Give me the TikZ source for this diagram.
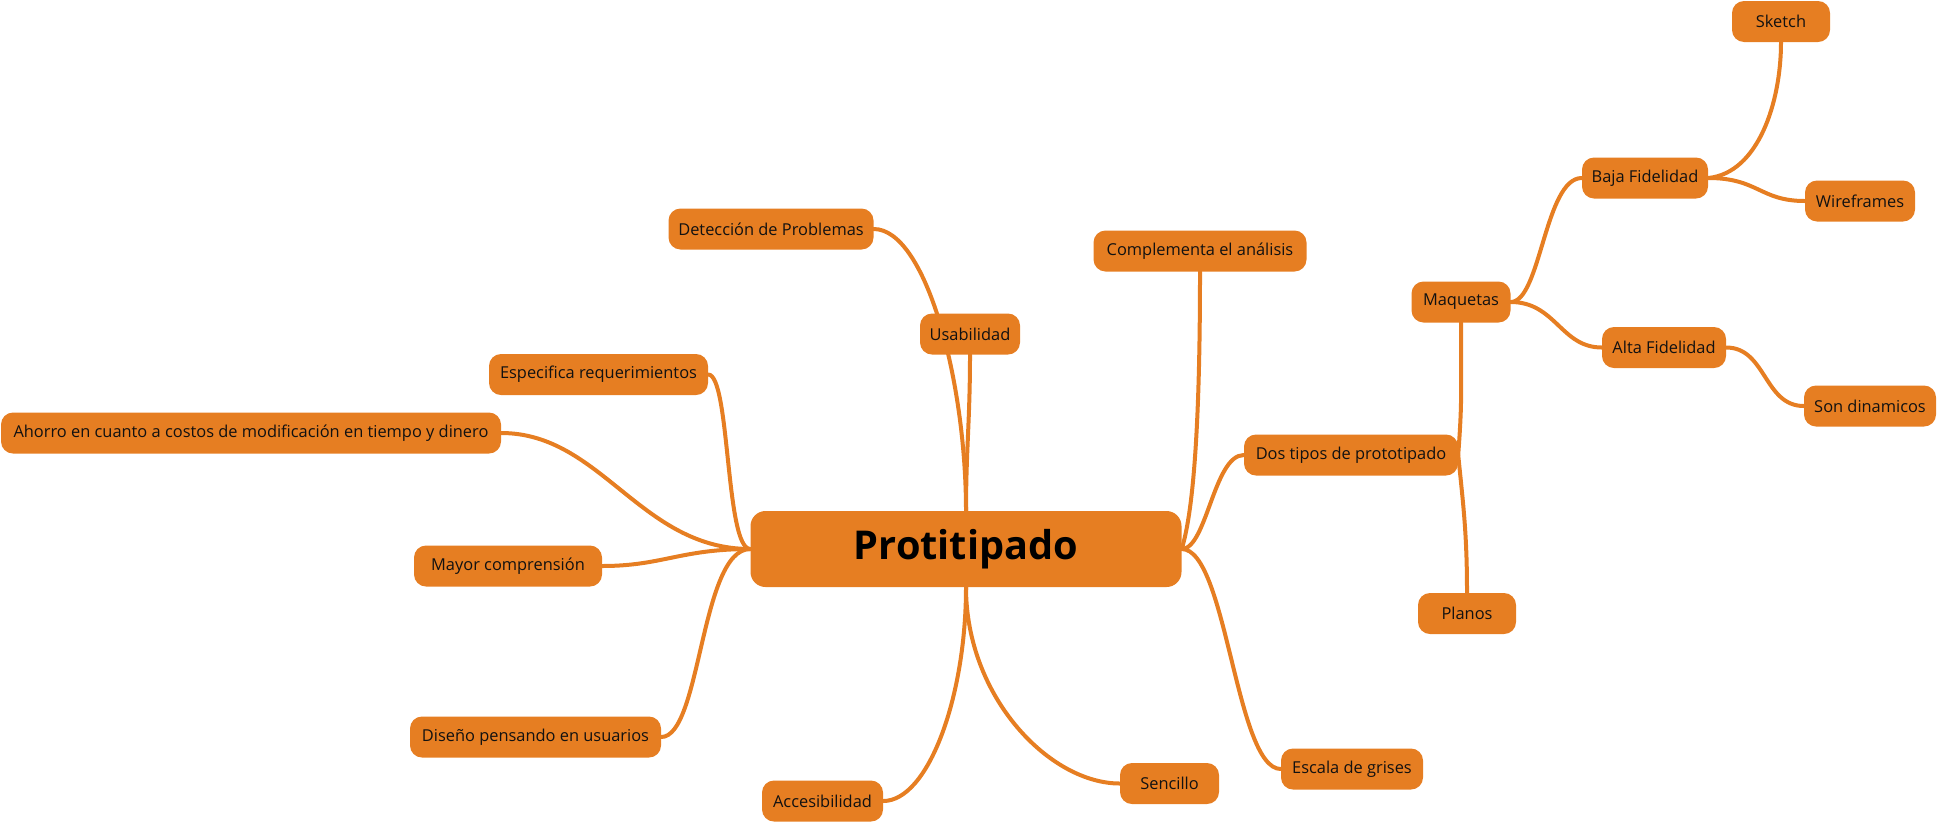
\documentclass[tikz,border=0pt]{standalone}
\usepackage{fontspec}
\setmainfont{Open Sans}
\usetikzlibrary{backgrounds}
\definecolor{mmorange}{HTML}{E67E22}
\definecolor{mmtext}{HTML}{111111}
\tikzset{
  topic/.style={fill=mmorange, draw=none, rounded corners=12pt, text=mmtext,
    inner sep=0pt, minimum height=41pt, font=\fontsize{16.4}{19}\selectfont},
  rootbox/.style={fill=mmorange, draw=none, rounded corners=15pt, text=black,
    inner sep=0pt, minimum width=431pt, minimum height=76pt,
    font=\fontsize{39.7}{46}\selectfont\bfseries},
  link/.style={draw=mmorange, line width=4pt, line cap=round}
}
\begin{document}
\begin{tikzpicture}[x=1pt,y=-1pt]
\useasboundingbox (0,0) rectangle (1937,823);
\node[rootbox] (root) at (966,549) {Protitipado};
\node[topic, minimum width=205pt] (det) at (771,229) {Detección de Problemas};
\node[topic, minimum width=100pt] (usa) at (970,334) {Usabilidad};
\node[topic, minimum width=213pt] (comp) at (1200,251) {Complementa el análisis};
\node[topic, minimum width=219pt] (esp) at (598.5,374.5) {Especifica requerimientos};
\node[topic, minimum width=500pt] (aho) at (251,433) {Ahorro en cuanto a costos de modificación en tiempo y dinero};
\node[topic, minimum width=188pt] (may) at (508,566) {Mayor comprensión};
\node[topic, minimum width=251pt] (dis) at (535.5,737) {Diseño pensando en usuarios};
\node[topic, minimum width=121pt] (acc) at (822.5,801) {Accesibilidad};
\node[topic, minimum width=99pt] (sen) at (1169.5,783.5) {Sencillo};
\node[topic, minimum width=142pt] (esc) at (1352,769) {Escala de grises};
\node[topic, minimum width=214pt] (dos) at (1351,455) {Dos tipos de prototipado};
\node[topic, minimum width=99pt] (maq) at (1461,302) {Maquetas};
\node[topic, minimum width=98pt] (pla) at (1467,613.5) {Planos};
\node[topic, minimum width=126pt] (baja) at (1645,178) {Baja Fidelidad};
\node[topic, minimum width=124pt] (alta) at (1664,347.5) {Alta Fidelidad};
\node[topic, minimum width=98pt] (ske) at (1781,21.5) {Sketch};
\node[topic, minimum width=110pt] (wir) at (1860,201) {Wireframes};
\node[topic, minimum width=132pt] (son) at (1870,406) {Son dinamicos};
\begin{scope}[on background layer]
\draw[link] (det.east) .. controls +(52,0) and +(0,-130) .. (root.north);
\draw[link] (usa.south) .. controls +(0,65) and +(0,-60) .. (root.north);
\draw[link] (comp.south) .. controls +(0,150) and +(12,-39) .. (root.east);
\draw[link] (root.east) .. controls +(25,0) and +(-30,0) .. (dos.west);
\draw[link] (root.east) .. controls +(45,0) and +(-45,0) .. (esc.west);
\draw[link] (root.south) .. controls +(0,110) and +(-70,0) .. (sen.west);
\draw[link] (root.south) .. controls +(0,110) and +(45,0) .. (acc.east);
\draw[link] (root.west) .. controls +(-50,0) and +(40,0) .. (dis.east);
\draw[link] (root.west) .. controls +(-70,0) and +(60,0) .. (may.east);
\draw[link] (root.west) .. controls +(-110,0) and +(100,0) .. (aho.east);
\draw[link] (root.west) .. controls +(-25,0) and +(22,0) .. (esp.east);
\draw[link] (dos.east) .. controls +(4,-55) and +(0,75) .. (maq.south);
\draw[link] (dos.east) .. controls +(5,50) and +(0,-60) .. (pla.north);
\draw[link] (maq.east) .. controls +(30,0) and +(-37,0) .. (baja.west);
\draw[link] (maq.east) .. controls +(45,0) and +(-41,0) .. (alta.west);
\draw[link] (baja.east) .. controls +(50,-5) and +(0,60) .. (ske.south);
\draw[link] (baja.east) .. controls +(50,0) and +(-45,0) .. (wir.west);
\draw[link] (alta.east) .. controls +(40,0) and +(-40,0) .. (son.west);
\end{scope}
\end{tikzpicture}
\end{document}
